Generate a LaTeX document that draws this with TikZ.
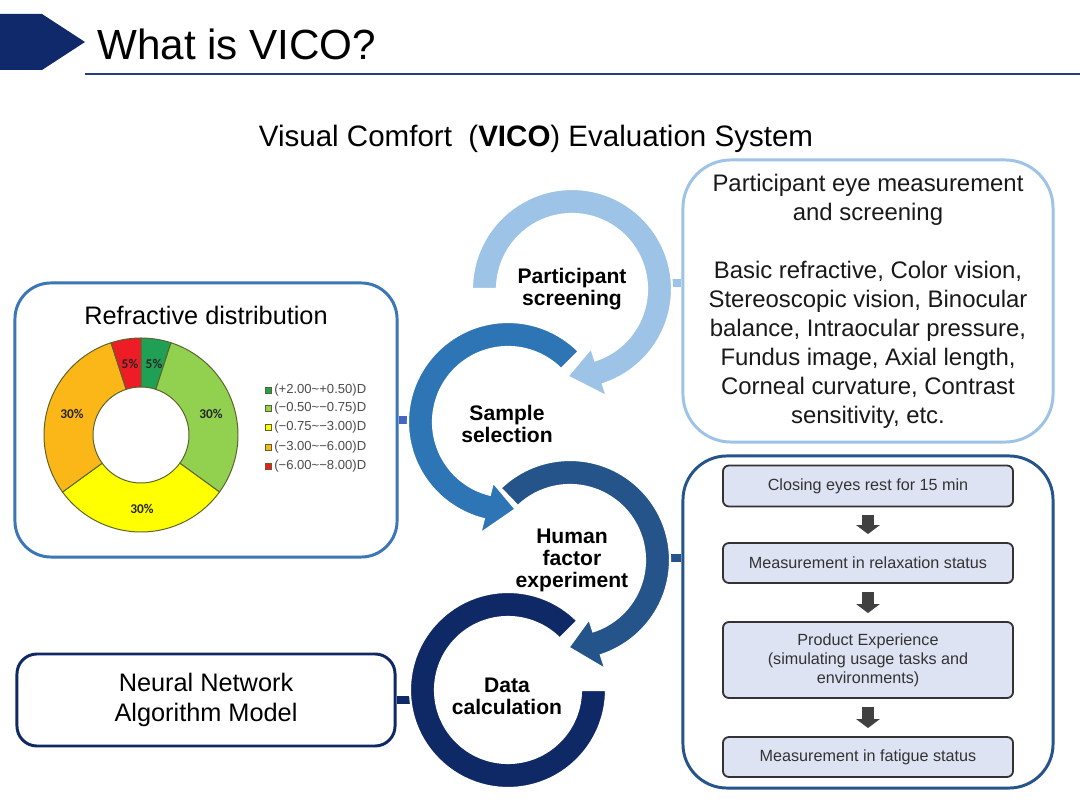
\documentclass[tikz,border=0pt]{standalone}
\usepackage{fontspec}
\setmainfont{Liberation Sans}
\newfontfamily\chartfont{Carlito}
\usetikzlibrary{arrows.meta}
\usetikzlibrary{positioning}

\definecolor{navy}{HTML}{10296B}
\definecolor{ringlight}{HTML}{9DC3E6}
\definecolor{ringmid}{HTML}{2E75B6}
\definecolor{ringdark}{HTML}{24548A}
\definecolor{ringnavy}{HTML}{0F2966}
\definecolor{boxmid}{HTML}{3B76B6}
\definecolor{tiemid}{HTML}{4766C2}
\definecolor{stepfill}{HTML}{DEE3F3}
\definecolor{segline}{HTML}{5A642C}
\definecolor{segdgreen}{HTML}{1FA055}
\definecolor{seglgreen}{HTML}{92D050}
\definecolor{segyellow}{HTML}{FFFF00}
\definecolor{segorange}{HTML}{FBB617}
\definecolor{segred}{HTML}{EE1C25}

\begin{document}
\begin{tikzpicture}[x=0.025cm, y=0.025cm,
    bigbox/.style={draw, line width=2.1pt, inner sep=0pt},
    stepbox/.style={draw=black!80, fill=stepfill, line width=1.3pt, rounded corners=0.15cm,
        minimum width=7.25cm, align=center, text=black!80, font=\fontsize{11.5}{13.5}\selectfont},
    ringtext/.style={align=center, font=\bfseries\fontsize{15}{15.6}\selectfont},
    ringarrow/.style={draw=white, line width=1.5pt},
    blockarrow/.style={draw=black!75, line width=9pt, -{Triangle[length=6.4pt, width=16.5pt]},
        shorten <=5.7pt, shorten >=5.7pt},
    tie/.style={line width=5pt},
    seg/.style={draw=segline, line width=0.7pt},
    pct/.style={text=black!85, font=\chartfont\bfseries\fontsize{9.5}{10}\selectfont},
    legendkey/.style={draw=segline, line width=0.4pt, minimum size=0.16cm, inner sep=0pt},
    legendtext/.style={anchor=west, inner sep=0pt, text=black!70, font=\fontsize{9.3}{10}\selectfont}]

    \useasboundingbox (0,0) rectangle (1080,810);
    \fill[white] (0,0) rectangle (1080,810);

    \fill[navy] (0,796) -- (42,796) -- (85,768) -- (42,740) -- (0,740) -- cycle;
    \node[anchor=base west, inner sep=0pt, font=\fontsize{30}{36}\selectfont] (title) at (97,750) {What is VICO?};
    \draw[navy!90, line width=2pt] (85,736) -- (1080,736);

    \node[anchor=base, font=\fontsize{21}{25}\selectfont] (subtitle) at (536,663) {Visual Comfort~ (\textbf{VICO}) Evaluation System};

    \node[bigbox, draw=boxmid, rounded corners=0.9cm, minimum width=9.55cm, minimum height=6.85cm] (chartbox) at (206,390) {};
    \node[font=\fontsize{18}{22}\selectfont] (charttitle) at (206,495) {Refractive distribution};

    \node[bigbox, draw=ringlight, rounded corners=1.2cm, minimum width=9.25cm, minimum height=7.05cm,
        align=center, text=black!90, font=\fontsize{17}{20.6}\selectfont] (screenbox) at (868,509)
        {Participant eye measurement\\and screening\\[20.6pt]Basic refractive, Color vision,\\Stereoscopic vision, Binocular\\balance, Intraocular pressure,\\Fundus image, Axial length,\\Corneal curvature, Contrast\\sensitivity, etc.};

    \node[bigbox, draw=ringdark, rounded corners=1.1cm, minimum width=9.25cm, minimum height=8.3cm] (expbox) at (868,188) {};

    \node[bigbox, draw=ringnavy, rounded corners=0.5cm, minimum width=9.45cm, minimum height=2.3cm,
        align=center, font=\fontsize{18}{21.3}\selectfont] (nnbox) at (206,110) {Neural Network\\Algorithm Model};

    \node[stepbox, minimum height=1.025cm] (rest) at (868,324) {Closing eyes rest for 15 min};
    \node[stepbox, minimum height=1cm] (relax) at (868,247) {Measurement in relaxation status};
    \node[stepbox, minimum height=1.9cm] (product) at (868,150) {Product Experience\\(simulating usage tasks and\\environments)};
    \node[stepbox, minimum height=1cm] (fatigue) at (868,53) {Measurement in fatigue status};

    \draw[blockarrow] (rest.south) -- (relax.north);
    \draw[blockarrow] (relax.south) -- (product.north);
    \draw[blockarrow] (product.south) -- (fatigue.north);

    \path[seg, fill=segdgreen, shift={(141,375)}] (90:97) arc[start angle=90, end angle=72, radius=97] -- (72:48) arc[start angle=72, end angle=90, radius=48] -- cycle;
    \path[seg, fill=seglgreen, shift={(141,375)}] (72:97) arc[start angle=72, end angle=-36, radius=97] -- (-36:48) arc[start angle=-36, end angle=72, radius=48] -- cycle;
    \path[seg, fill=segyellow, shift={(141,375)}] (-36:97) arc[start angle=-36, end angle=-144, radius=97] -- (-144:48) arc[start angle=-144, end angle=-36, radius=48] -- cycle;
    \path[seg, fill=segorange, shift={(141,375)}] (-144:97) arc[start angle=-144, end angle=-252, radius=97] -- (-252:48) arc[start angle=-252, end angle=-144, radius=48] -- cycle;
    \path[seg, fill=segred, shift={(141,375)}] (108:97) arc[start angle=108, end angle=90, radius=97] -- (90:48) arc[start angle=90, end angle=108, radius=48] -- cycle;

    \node[pct] (pctred) at (130,446) {5\%};
    \node[pct] (pctdgreen) at (154,446) {5\%};
    \node[pct] (pctlgreen) at (211,396) {30\%};
    \node[pct] (pctorange) at (72,396) {30\%};
    \node[pct] (pctyellow) at (142,301) {30\%};

    \node[legendkey, fill=segdgreen] (keydgreen) at (268,420) {};
    \node[legendkey, fill=seglgreen] (keylgreen) at (268,402) {};
    \node[legendkey, fill=segyellow] (keyyellow) at (268,383) {};
    \node[legendkey, fill=segorange] (keyorange) at (268,363) {};
    \node[legendkey, fill=segred] (keyred) at (268,344) {};
    \node[legendtext] (legdgreen) at (274,420) {(+2.00\textasciitilde+0.50)D};
    \node[legendtext] (leglgreen) at (274,402) {(−0.50\textasciitilde−0.75)D};
    \node[legendtext] (legyellow) at (274,383) {(−0.75\textasciitilde−3.00)D};
    \node[legendtext] (legorange) at (274,363) {(−3.00\textasciitilde−6.00)D};
    \node[legendtext] (legred) at (274,344) {(−6.00\textasciitilde−8.00)D};

    \coordinate (sampleedge) at (420,390);
    \coordinate (screenedge) at (660,527);
    \coordinate (expedge) at (655,252);
    \coordinate (calcedge) at (420,110);
    \draw[tie, tiemid] (chartbox.east) -- (sampleedge);
    \draw[tie, ringlight] (screenedge) -- (screenedge -| screenbox.west);
    \draw[tie, ringdark] (expedge) -- (expedge -| expbox.west);
    \draw[tie, ringnavy] (nnbox.east) -- (calcedge);

    \path[ringarrow, fill=ringnavy, shift={(508,120)}] (45:98) arc[start angle=45, end angle=360, radius=98] -- (0:73) arc[start angle=360, end angle=45, radius=73] -- cycle;
    \path[ringarrow, fill=ringdark, shift={(570,250)}] (134:100) arc[start angle=134, end angle=-72, radius=100] -- (-72:115) -- (-91:87.5) -- (-72:62) -- (-72:75) arc[start angle=-72, end angle=134, radius=75] -- cycle;
    \path[ringarrow, fill=ringmid, shift={(508,388)}] (45:100) arc[start angle=45, end angle=256, radius=100] -- (256:115) -- (275:87.5) -- (256:62) -- (256:75) arc[start angle=256, end angle=45, radius=75] -- cycle;
    \path[ringarrow, fill=ringlight, shift={(572,521)}] (180:100) arc[start angle=180, end angle=-72, radius=100] -- (-72:113) -- (-93:87.5) -- (-72:62) -- (-72:75) arc[start angle=-72, end angle=180, radius=75] -- cycle;

    \node[ringtext] (screening) at (572,521) {Participant\\screening};
    \node[ringtext] (sample) at (507,386) {Sample\\selection};
    \node[ringtext] (human) at (572,250) {Human\\factor\\experiment};
    \node[ringtext] (calc) at (507,114) {Data\\calculation};
\end{tikzpicture}
\end{document}
